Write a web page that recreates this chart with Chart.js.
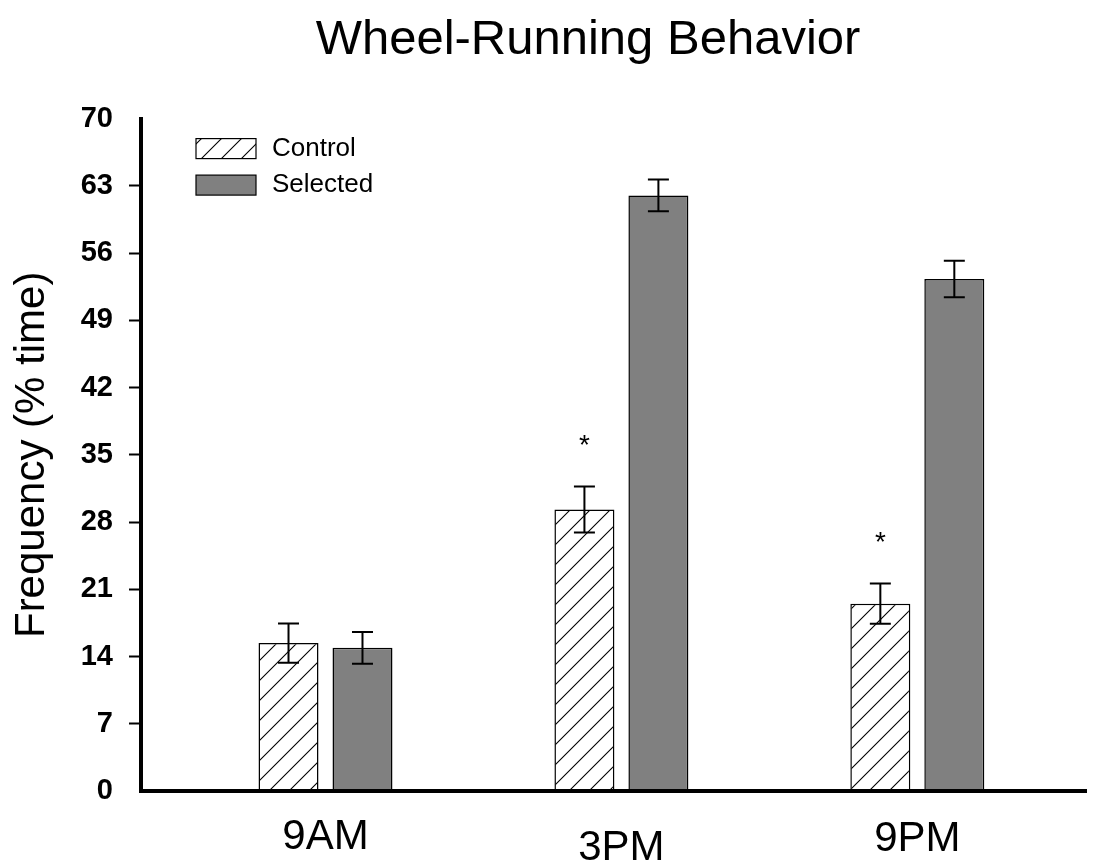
<!DOCTYPE html>
<html>
<head>
<meta charset="utf-8">
<script src="https://cdn.jsdelivr.net/npm/chart.js@4.4.1/dist/chart.umd.min.js"></script>
<style>
  html, body { margin: 0; padding: 0; background: #fff; }
  #wrap { width: 1101px; height: 861px; }
</style>
</head>
<body>
<div id="wrap"><canvas id="c" width="1101" height="861"></canvas></div>
<script>
// Time points and group means (% time on wheel) with standard errors
const categories   = ['9AM', '3PM', '9PM'];
const controlMean  = [15.4, 29.3, 19.5];
const controlErr   = [2.05, 2.4, 2.1];
const selectedMean = [14.9, 62.0, 53.3];
const selectedErr  = [1.65, 1.65, 1.9];
// significance markers above the Control bars
const controlMarks = ['', '*', '*'];
const yTickValues  = [0, 7, 14, 21, 28, 35, 42, 49, 56, 63, 70];
const chartTitle   = 'Wheel-Running Behavior';

const FONT = "'Liberation Sans', Arial, Helvetica, sans-serif";

// diagonal hatch for the Control bars
function makeHatch() {
  const s = 20;
  const c = document.createElement('canvas');
  c.width = s; c.height = s;
  const g = c.getContext('2d');
  g.fillStyle = '#fff';
  g.fillRect(0, 0, s, s);
  g.strokeStyle = '#000';
  g.lineWidth = 1.1;
  g.beginPath();
  g.moveTo(-2, s + 2); g.lineTo(s + 2, -2);
  g.moveTo(-2, 2); g.lineTo(2, -2);
  g.moveTo(s - 2, s + 2); g.lineTo(s + 2, s - 2);
  g.stroke();
  return g.createPattern(c, 'repeat');
}
const hatch = makeHatch();

const toPoints = arr => arr.map((v, i) => ({ x: i + 1, y: v }));

const errors = [controlErr, selectedErr];

const whiteBg = {
  id: 'whiteBg',
  beforeDraw(chart) {
    const { ctx } = chart;
    ctx.save();
    ctx.fillStyle = '#fff';
    ctx.fillRect(0, 0, chart.width, chart.height);
    ctx.restore();
  }
};

// title, placed a little right of the canvas centre
const titleText = {
  id: 'titleText',
  afterDraw(chart) {
    const { ctx } = chart;
    ctx.save();
    ctx.fillStyle = '#000';
    ctx.font = '49px ' + FONT;
    ctx.textAlign = 'center';
    ctx.textBaseline = 'middle';
    ctx.fillText(chartTitle, 588, 40);
    ctx.restore();
  }
};

const errorBars = {
  id: 'errorBars',
  afterDatasetsDraw(chart) {
    const { ctx } = chart;
    const y = chart.scales.y;
    ctx.save();
    ctx.strokeStyle = '#000';
    ctx.lineWidth = 2;
    chart.data.datasets.forEach((ds, di) => {
      const meta = chart.getDatasetMeta(di);
      meta.data.forEach((bar, i) => {
        const v = ds.data[i].y, e = errors[di][i];
        const top = y.getPixelForValue(v + e), bot = y.getPixelForValue(v - e);
        const x = bar.x, cap = 10.5;
        ctx.beginPath();
        ctx.moveTo(x, top); ctx.lineTo(x, bot);
        ctx.moveTo(x - cap, top); ctx.lineTo(x + cap, top);
        ctx.moveTo(x - cap, bot); ctx.lineTo(x + cap, bot);
        ctx.stroke();
      });
    });
    // asterisks over Control bars
    const meta0 = chart.getDatasetMeta(0);
    ctx.fillStyle = '#000';
    ctx.font = '28px ' + FONT;
    ctx.textAlign = 'center';
    ctx.textBaseline = 'alphabetic';
    controlMarks.forEach((m, i) => {
      if (!m) return;
      const top = y.getPixelForValue(controlMean[i] + controlErr[i]);
      const cy = top - 48;
      ctx.fillText(m, meta0.data[i].x, cy + 0.57 * 28);
    });
    ctx.restore();
  }
};

const boxLegend = {
  id: 'boxLegend',
  afterDraw(chart) {
    const { ctx, chartArea } = chart;
    ctx.save();
    ctx.font = '26px ' + FONT;
    ctx.textAlign = 'left';
    ctx.textBaseline = 'middle';
    chart.data.datasets.forEach((ds, i) => {
      const x = chartArea.left + 55;
      const yTop = chartArea.top + 20 + i * 36.5;
      ctx.fillStyle = ds.backgroundColor;
      ctx.fillRect(x, yTop, 60, 20);
      ctx.strokeStyle = '#000';
      ctx.lineWidth = 1.2;
      ctx.strokeRect(x, yTop, 60, 20);
      ctx.fillStyle = '#000';
      ctx.fillText(ds.label, x + 76, yTop + 10);
    });
    ctx.restore();
  }
};

// category names under the axis
const catLabels = {
  id: 'catLabels',
  afterDraw(chart) {
    const { ctx } = chart;
    const xs = chart.scales.x;
    const drops = [0, 11, 2];
    ctx.save();
    ctx.fillStyle = '#000';
    ctx.font = '42px ' + FONT;
    ctx.textAlign = 'center';
    ctx.textBaseline = 'middle';
    categories.forEach((c, i) => {
      ctx.fillText(c, xs.getPixelForValue(i + 1), chart.chartArea.bottom + 46 + drops[i]);
    });
    ctx.restore();
  }
};

new Chart(document.getElementById('c'), {
  type: 'bar',
  data: {
    datasets: [
      {
        label: 'Control',
        data: toPoints(controlMean),
        backgroundColor: hatch,
        borderColor: '#000',
        borderWidth: 1.5,
        borderSkipped: false
      },
      {
        label: 'Selected',
        data: toPoints(selectedMean),
        backgroundColor: '#808080',
        borderColor: '#000',
        borderWidth: 1.5,
        borderSkipped: false
      }
    ]
  },
  options: {
    responsive: false,
    animation: false,
    devicePixelRatio: 1,
    categoryPercentage: 0.5,
    barPercentage: 0.811,
    layout: { padding: { left: 0, right: 15, top: 118.6, bottom: 0 } },
    plugins: {
      legend: { display: false },
      tooltip: { enabled: false },
      title: { display: false }
    },
    scales: {
      x: {
        type: 'linear',
        offset: false,
        min: 0.3765,
        max: 3.570,
        afterBuildTicks(scale) {
          scale.ticks = categories.map((_, i) => ({ value: i + 1 }));
        },
        afterFit(scale) { scale.height = 70; },
        ticks: { display: false },
        grid: { display: false, offset: false },
        border: { display: true, color: '#000', width: 4 }
      },
      y: {
        min: 0,
        max: 70,
        afterBuildTicks(scale) {
          scale.ticks = yTickValues.map(v => ({ value: v }));
        },
        afterFit(scale) { scale.width = 141; },
        ticks: {
          color: '#000',
          padding: 16,
          font: { family: FONT, size: 29, weight: 'bold' }
        },
        grid: {
          display: true,
          drawOnChartArea: false,
          drawTicks: true,
          tickLength: 12,
          tickWidth: 2,
          tickColor: ctx => (ctx.tick && (ctx.tick.value === 0 || ctx.tick.value === 70)) ? 'rgba(0,0,0,0)' : '#000'
        },
        border: { display: true, color: '#000', width: 4 },
        title: {
          display: true,
          text: 'Frequency (% time)',
          color: '#000',
          font: { family: FONT, size: 42, weight: 'normal' },
          padding: { top: 7, bottom: 0 }
        }
      }
    }
  },
  plugins: [whiteBg, errorBars, boxLegend, catLabels, titleText]
});
</script>
</body>
</html>
